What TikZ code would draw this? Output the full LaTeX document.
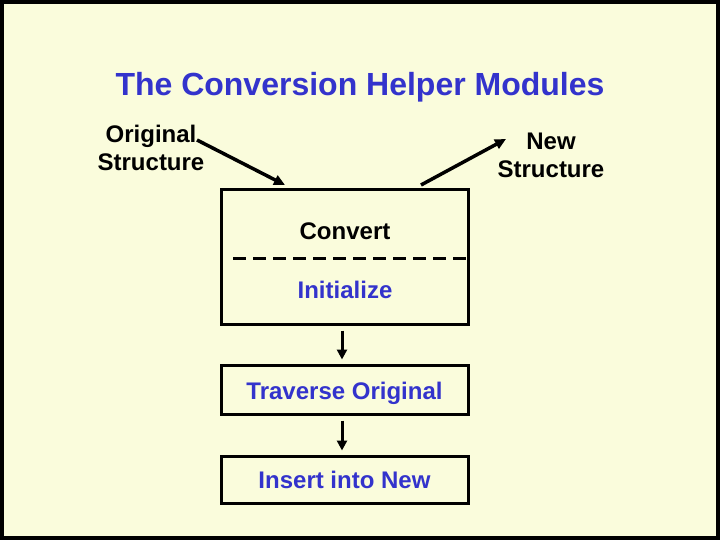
\documentclass[tikz,border=0pt]{standalone}
\usepackage{fontspec}
\setmainfont{Liberation Sans}
\usetikzlibrary{arrows.meta}
\definecolor{bg}{RGB}{250,252,220}
\definecolor{tblue}{RGB}{51,51,204}
\begin{document}
\begin{tikzpicture}[x=1pt,y=-1pt,
  lbl/.style={font=\fontsize{24}{28}\selectfont\bfseries, align=center, inner sep=0pt},
  boxe/.style={draw=black, line width=3pt, minimum width=247pt, inner sep=0pt},
  conn/.style={line width=3.5pt, -{Triangle[length=11pt,width=10pt]}},
  down/.style={line width=3pt, -{Triangle[length=10pt,width=10pt]}}]
\useasboundingbox (0,0) rectangle (720,540);
\fill[bg] (0,0) rectangle (720,540);
\draw[line width=4pt] (2,2) rectangle (718,538);
\node[font=\fontsize{32}{36}\selectfont\bfseries, text=tblue, inner sep=0pt] (title) at (360,87) {The Conversion Helper Modules};
\node[lbl] (orig) at (151,148) {Original\\Structure};
\node[lbl] (new) at (551,155) {New\\Structure};
\node[boxe, minimum height=134pt] (b1) at (344.5,257) {};
\node[lbl] (conv) at (345,231) {Convert};
\node[lbl, text=tblue] (init) at (345,290) {Initialize};
\coordinate (dl) at (233,258);
\coordinate (dr) at (468,258);
\draw[line width=3pt, dash pattern=on 13pt off 7pt] (dl) -- (dr);
\node[boxe, minimum height=49pt, lbl, text=tblue, text depth=1pt] (b2) at (344.5,389.5) {\raisebox{-3pt}{Traverse Original}};
\node[boxe, minimum height=47pt, lbl, text=tblue] (b3) at (344.5,479.5) {\raisebox{-2pt}{Insert into New}};
\coordinate (a1s) at (197,140);
\coordinate (a1e) at (285,185);
\coordinate (a2s) at (421,185);
\coordinate (a2e) at (506,139);
\draw[conn] (a1s) -- (a1e);
\draw[conn] (a2s) -- (a2e);
\draw[down] ([xshift=-2.5pt,yshift=-5pt]b1.south) -- ([xshift=-2.5pt,yshift=4pt]b2.north);
\draw[down] ([xshift=-2.5pt,yshift=-5pt]b2.south) -- ([xshift=-2.5pt,yshift=4pt]b3.north);
\end{tikzpicture}
\end{document}
